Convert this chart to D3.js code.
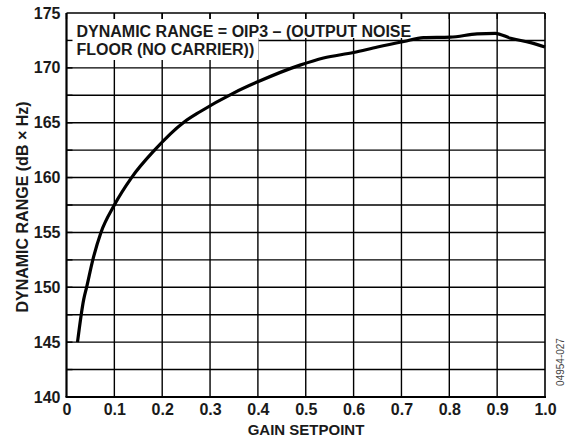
<!DOCTYPE html>
<html>
<head>
<meta charset="utf-8">
<script src="https://cdn.jsdelivr.net/npm/d3@7"></script>
<style>
html,body{margin:0;padding:0;background:#fff;}
svg{display:block;font-family:"Liberation Sans",Arial,Helvetica,sans-serif;}
</style>
</head>
<body>
<svg id="chart" width="571" height="438"></svg>
<script>
const gainSetpoint = [0.023,0.036,0.042,0.055,0.072,0.1,0.136,0.184,0.244,0.279,0.349,0.401,0.488,0.537,0.6,0.65,0.705,0.746,0.802,0.858,0.896,0.928,0.97,1.0];
const dynamicRange = [145,148.9,150,152.5,155,157.5,160,162.5,165,166,167.7,168.75,170.25,170.9,171.4,171.9,172.4,172.75,172.8,173.1,173.15,172.7,172.3,171.9];
const xTicks = [0,0.1,0.2,0.3,0.4,0.5,0.6,0.7,0.8,0.9,1.0];
const xTickLabels = ["0","0.1","0.2","0.3","0.4","0.5","0.6","0.7","0.8","0.9","1.0"];
const yTicks = [140,145,150,155,160,165,170,175];
const yGrid = [142.5,145,147.5,150,152.5,155,157.5,160,162.5,165,167.5,170,172.5];
const noteLines = ["DYNAMIC RANGE = OIP3 \u2013 (OUTPUT NOISE","FLOOR (NO CARRIER))"];
const xTitle = "GAIN SETPOINT";
const yTitle = "DYNAMIC RANGE (dB \u00d7 Hz)";
const figId = "04954-027";

const svg = d3.select("#chart");
const L = 66.5, R = 545, T = 13, B = 397;
const x = d3.scaleLinear().domain([0,1]).range([L,R]);
const y = d3.scaleLinear().domain([140,175]).range([B,T]);
const ink = "#1a1a1a";

// grid
svg.append("g").selectAll("line").data(xTicks.slice(1,-1)).join("line")
  .attr("x1",d=>x(d)).attr("x2",d=>x(d)).attr("y1",T).attr("y2",B)
  .attr("stroke","#000").attr("stroke-width",1.4);
svg.append("g").selectAll("line").data(yGrid).join("line")
  .attr("x1",L).attr("x2",R).attr("y1",d=>y(d)).attr("y2",d=>y(d))
  .attr("stroke","#000").attr("stroke-width",1.4);

// note box background
svg.append("rect").attr("x",L+1).attr("y",T+6).attr("width",350).attr("height",19).attr("fill","#fff");
svg.append("rect").attr("x",L+1).attr("y",T+6).attr("width",191).attr("height",41).attr("fill","#fff");

// inward ticks
svg.append("g").selectAll("line").data(xTicks).join("line")
  .attr("x1",d=>x(d)).attr("x2",d=>x(d)).attr("y1",T).attr("y2",T+6)
  .attr("stroke","#000").attr("stroke-width",1.4);
svg.append("g").selectAll("line").data(yGrid).join("line")
  .attr("x1",L).attr("x2",L+6).attr("y1",d=>y(d)).attr("y2",d=>y(d))
  .attr("stroke","#000").attr("stroke-width",1.4);

// frame
svg.append("line").attr("x1",R).attr("x2",R).attr("y1",T).attr("y2",B).attr("stroke","#000").attr("stroke-width",1.6);
svg.append("line").attr("x1",L).attr("x2",R).attr("y1",T).attr("y2",T).attr("stroke","#000").attr("stroke-width",1.6);
svg.append("line").attr("x1",L).attr("x2",L).attr("y1",T).attr("y2",B).attr("stroke","#000").attr("stroke-width",2.2);
svg.append("line").attr("x1",L-1).attr("x2",R+1).attr("y1",B).attr("y2",B).attr("stroke","#000").attr("stroke-width",2.2);

// note text
const note = svg.append("text").attr("font-size",16).attr("font-weight","bold").attr("fill",ink);
noteLines.forEach((t,i)=>note.append("tspan").attr("x",L+10).attr("y",T+24+i*18).text(t));

// curve
const pts = gainSetpoint.map((g,i)=>[g,dynamicRange[i]]);
svg.append("path").datum(pts)
  .attr("d",d3.line().x(d=>x(d[0])).y(d=>y(d[1])).curve(d3.curveMonotoneX))
  .attr("fill","none").attr("stroke","#000").attr("stroke-width",3.2)
  .attr("stroke-linejoin","round");

// axes labels
const xa = d3.axisBottom(x).tickValues(xTicks).tickFormat((d,i)=>xTickLabels[i]).tickSize(0).tickPadding(6.5);
svg.append("g").attr("transform",`translate(0,${B})`).call(xa)
  .call(g=>g.select(".domain").remove())
  .call(g=>g.attr("font-family",null).attr("font-size",null))
  .selectAll("text").attr("font-size",16).attr("font-weight","bold").attr("fill",ink);
const ya = d3.axisLeft(y).tickValues(yTicks).tickFormat(d3.format("d")).tickSize(0).tickPadding(6);
svg.append("g").attr("transform",`translate(${L},0)`).call(ya)
  .call(g=>g.select(".domain").remove())
  .call(g=>g.attr("font-family",null).attr("font-size",null))
  .selectAll("text").attr("font-size",16).attr("font-weight","bold").attr("fill",ink);

// titles
svg.append("text").attr("x",306).attr("y",435).attr("text-anchor","middle")
  .attr("font-size",15).attr("font-weight","bold").attr("fill",ink).text(xTitle);
svg.append("text").attr("transform",`translate(28,207) rotate(-90)`).attr("text-anchor","middle")
  .attr("font-size",16).attr("font-weight","bold").attr("fill",ink).text(yTitle);
svg.append("text").attr("transform",`translate(564,362) rotate(-90)`).attr("text-anchor","middle")
  .attr("font-size",10).attr("fill","#444").text(figId);
</script>
</body>
</html>
